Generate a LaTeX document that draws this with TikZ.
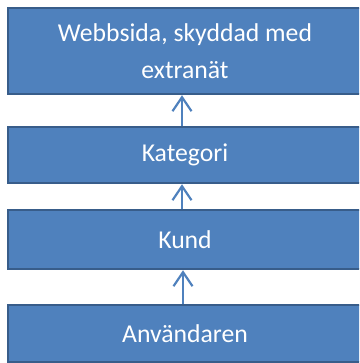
\documentclass[tikz,border=0pt]{standalone}
\usepackage{fontspec}
\setmainfont{Carlito}
\usetikzlibrary{arrows.meta}
\definecolor{boxfill}{HTML}{4F81BD}
\definecolor{boxline}{HTML}{385D8A}
\begin{document}
\begin{tikzpicture}[x=1pt,y=1pt,>={Straight Barb[length=14pt,width=19pt,line width=2.2pt]},
  layer/.style={draw=boxline,line width=2.5pt,fill=boxfill,text=white,
    minimum width=354pt,align=center,font=\fontsize{25.7}{37}\selectfont,inner sep=0pt},
  link/.style={->,boxfill,line width=2.2pt}]
  \useasboundingbox (0,0) rectangle (359,363);
  \clip (0,0) rectangle (359,363);

  \node[layer,minimum height=86pt] (web) at (185,312) {Webbsida, skyddad med\\extranät};
  \node[layer,minimum height=56pt] (kategori) at (185,208) {Kategori};
  \node[layer,minimum height=59pt] (kund) at (185,123.5) {Kund};
  \node[layer,minimum height=57pt] (anvandaren) at (185,29.5) {Användaren};

  \draw[link] (kategori.north -| 182,0) -- (web.south -| 182,0);
  \draw[link] (kund.north -| 182,0) -- (kategori.south -| 182,0);
  \draw[link] (anvandaren.north -| 183,0) -- (kund.south -| 183,0);
\end{tikzpicture}
\end{document}
